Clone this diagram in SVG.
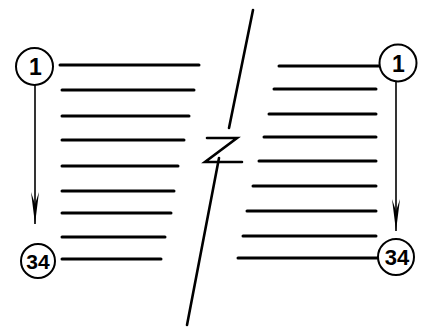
<svg xmlns="http://www.w3.org/2000/svg" width="425" height="331" viewBox="0 0 425 331">
<defs>
<style>
.bar{stroke:#000;stroke-width:3;stroke-linecap:round;fill:none}
.cir{stroke:#000;stroke-width:2;fill:#fff}
.arr{stroke:#000;stroke-width:1.6;fill:none}
.brk{stroke:#000;stroke-width:2.6;stroke-linecap:round;fill:none}
.lbl{font-family:"Liberation Sans",Arial,sans-serif;font-weight:bold;fill:#000;text-anchor:middle}
</style>
<marker id="ah" viewBox="0 0 32 8" refX="32" refY="4" markerWidth="32" markerHeight="8" markerUnits="userSpaceOnUse" orient="auto">
<path d="M0,0 L32,4 L0,8 L12,4 Z" fill="#000"/>
</marker>
</defs>
<g id="connectors">
<line class="arr" x1="35" y1="85" x2="35" y2="224" marker-end="url(#ah)"/>
<line class="arr" x1="396" y1="81" x2="396" y2="231" marker-end="url(#ah)"/>
</g>
<g id="left-lines">
<line class="bar" x1="60" y1="65" x2="199" y2="65"/>
<line class="bar" x1="62" y1="90" x2="194" y2="90"/>
<line class="bar" x1="62" y1="116" x2="189" y2="116"/>
<line class="bar" x1="62" y1="140" x2="184" y2="140"/>
<line class="bar" x1="62" y1="166" x2="178" y2="166"/>
<line class="bar" x1="62" y1="191" x2="174" y2="191"/>
<line class="bar" x1="62" y1="213" x2="171" y2="213"/>
<line class="bar" x1="62" y1="237" x2="165" y2="237"/>
<line class="bar" x1="62" y1="259" x2="161" y2="259"/>
</g>
<g id="right-lines">
<line class="bar" x1="279" y1="66" x2="382" y2="66"/>
<line class="bar" x1="274" y1="89" x2="376" y2="89"/>
<line class="bar" x1="269" y1="114" x2="376" y2="114"/>
<line class="bar" x1="264" y1="137" x2="376" y2="137"/>
<line class="bar" x1="259" y1="161" x2="376" y2="161"/>
<line class="bar" x1="253" y1="186" x2="376" y2="186"/>
<line class="bar" x1="247" y1="211" x2="376" y2="211"/>
<line class="bar" x1="243" y1="236" x2="376" y2="236"/>
<line class="bar" x1="238" y1="258" x2="378" y2="258"/>
</g>
<g id="break">
<line class="brk" x1="253" y1="10" x2="229" y2="128"/>
<line class="brk" x1="219" y1="158" x2="187" y2="325"/>
<polyline class="brk" stroke-linecap="butt" stroke-linejoin="miter" points="207,138 237,138 205,162 242,162"/>
</g>
<g id="node-left-1">
<circle class="cir" cx="34.5" cy="66.5" r="18.5"/>
<text class="lbl" x="35.5" y="75" font-size="23">1</text>
</g>
<g id="node-left-34">
<circle class="cir" cx="38" cy="261" r="17"/>
<text class="lbl" x="38" y="268.5" font-size="21">34</text>
</g>
<g id="node-right-1">
<circle class="cir" cx="398" cy="63" r="18.5"/>
<text class="lbl" x="398.5" y="72" font-size="23">1</text>
</g>
<g id="node-right-34">
<circle class="cir" cx="396" cy="257" r="18"/>
<text class="lbl" x="397" y="264.5" font-size="22">34</text>
</g>
</svg>
